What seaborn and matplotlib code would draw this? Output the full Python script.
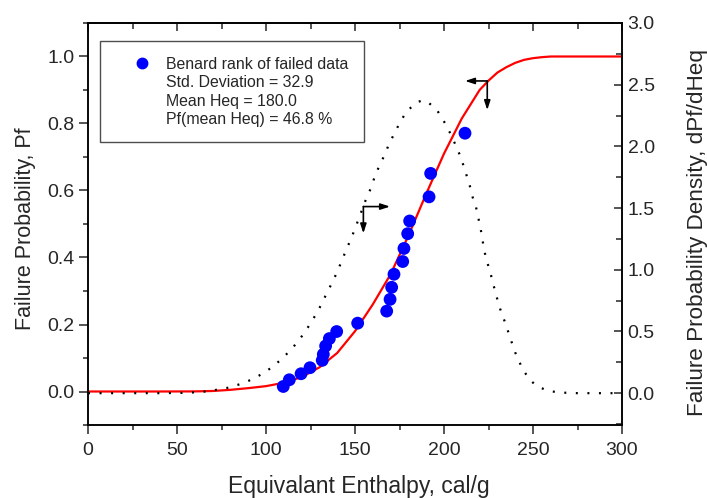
import matplotlib
matplotlib.use("Agg")
import matplotlib.pyplot as plt
from matplotlib.lines import Line2D
from matplotlib.ticker import MultipleLocator, FormatStrFormatter
import seaborn as sns
import pandas as pd

# ---- data ----
heq_pts = [109.7, 113.1, 119.7, 124.7, 131.6, 132.2, 133.5, 135.6, 139.7, 151.5,
           167.8, 169.7, 170.6, 171.9, 176.8, 177.5, 179.6, 180.7, 191.6, 192.5, 211.8]
pf_pts = [0.015, 0.035, 0.053, 0.071, 0.093, 0.111, 0.136, 0.158, 0.179, 0.204,
          0.240, 0.275, 0.311, 0.350, 0.388, 0.427, 0.471, 0.509, 0.581, 0.651, 0.771]

cdf_x = [0, 20, 40, 60, 70, 80, 90, 100, 110, 120, 130, 140, 150, 160, 170, 180,
         190, 200, 210, 220, 225, 230, 235, 240, 245, 250, 255, 260, 270, 300]
cdf_y = [0, 0, 0, 0.0003, 0.0015, 0.005, 0.010, 0.016, 0.026, 0.043, 0.072, 0.115,
         0.180, 0.260, 0.350, 0.465, 0.590, 0.710, 0.815, 0.900, 0.928, 0.952, 0.968,
         0.981, 0.990, 0.995, 0.998, 1.0, 1.0, 1.0]

pdf_x = [0, 20, 40, 55, 62, 67.6, 73.4, 79.4, 85.4, 91.6, 97.6, 103.5, 109.6, 115.3,
         120, 124.3, 127.9, 131.3, 134.1, 137.3, 140.1, 142.5, 144.9, 147.6, 150,
         152.4, 156.6, 159.4, 161.2, 164, 166.9, 169.3, 172.5, 175.3, 179, 184.7,
         187.5, 190.6, 196.2, 200, 203, 206.2, 208.6, 210.8, 212.7, 214.6, 216.1,
         218, 219.3, 221, 222.5, 224, 225.8, 227.4, 229, 230.7, 232.4, 234.8, 236.7,
         240, 244, 248, 252, 258, 265, 275, 300]
pdf_y = [0, 0, 0, 0.003, 0.008, 0.016, 0.030, 0.046, 0.073, 0.108, 0.154, 0.211,
         0.287, 0.373, 0.459, 0.549, 0.635, 0.724, 0.810, 0.900, 0.986, 1.070, 1.156,
         1.246, 1.332, 1.426, 1.588, 1.675, 1.764, 1.851, 1.940, 2.026, 2.115, 2.196,
         2.283, 2.358, 2.370, 2.364, 2.291, 2.202, 2.121, 2.021, 1.940, 1.851, 1.764,
         1.675, 1.588, 1.507, 1.420, 1.300, 1.162, 1.075, 0.989, 0.900, 0.810, 0.724,
         0.643, 0.557, 0.468, 0.330, 0.200, 0.110, 0.060, 0.020, 0.005, 0.0, 0.0]

legend_lines = ["Benard rank of failed data", "Std. Deviation = 32.9",
                "Mean Heq = 180.0", "Pf(mean Heq) = 46.8 %"]

xlabel = "Equivalant Enthalpy, cal/g"
ylabel_left = "Failure Probability, Pf"
ylabel_right = "Failure Probability Density, dPf/dHeq"

# ---- styling ----
sns.set_style("ticks")
plt.rcParams['font.family'] = ['Liberation Sans', 'DejaVu Sans']

fig = plt.figure(figsize=(7.07, 4.98), dpi=100)
ax = fig.add_axes([88/707, 1-425/498, (622-88)/707, (425-23)/498])
ax2 = ax.twinx()

pts = pd.DataFrame({"x": heq_pts, "y": pf_pts})
cdf = pd.DataFrame({"x": cdf_x, "y": cdf_y})
pdf = pd.DataFrame({"x": pdf_x, "y": pdf_y})

sns.lineplot(data=cdf, x="x", y="y", ax=ax, color="#ff0000", lw=1.6,
             estimator=None, sort=False, zorder=2)
sns.scatterplot(data=pts, x="x", y="y", ax=ax, color="#0000ff", s=85,
                edgecolor="none", zorder=3)
sns.lineplot(data=pdf, x="x", y="y", ax=ax2, color="black", lw=1.6,
             estimator=None, sort=False)
ax2.lines[0].set_linestyle((0, (0.9, 4.3)))

ax.set_xlim(0, 300)
ax.set_ylim(-0.1, 1.1)
ax2.set_ylim(-0.258, 3.0)

ax.xaxis.set_major_locator(MultipleLocator(50))
ax.xaxis.set_minor_locator(MultipleLocator(25))
ax.yaxis.set_major_locator(MultipleLocator(0.2))
ax.yaxis.set_minor_locator(MultipleLocator(0.1))
ax2.yaxis.set_major_locator(MultipleLocator(0.5))
ax2.yaxis.set_minor_locator(MultipleLocator(0.25))
ax.yaxis.set_major_formatter(FormatStrFormatter('%.1f'))
ax2.yaxis.set_major_formatter(FormatStrFormatter('%.1f'))

for a in (ax, ax2):
    for s in a.spines.values():
        s.set_linewidth(1.1)
        s.set_color("black")
        s.set_visible(True)

ax.tick_params(axis='y', which='major', direction='out', length=6.5, width=1.1,
               labelsize=14, pad=3)
ax.tick_params(axis='x', which='major', direction='out', length=6.5, width=1.1,
               labelsize=14, pad=5.5)
ax.tick_params(axis='both', which='minor', direction='out', length=3.5, width=1.1)
ax2.tick_params(axis='y', which='major', direction='in', length=6, width=1.1,
                labelsize=14, pad=4)
ax2.tick_params(axis='y', which='minor', direction='in', length=4, width=1.1)

top = ax.secondary_xaxis('top')
top.xaxis.set_major_locator(MultipleLocator(50))
top.xaxis.set_minor_locator(MultipleLocator(25))
top.tick_params(axis='x', which='major', direction='in', length=6, width=1.1, labeltop=False)
top.tick_params(axis='x', which='minor', direction='in', length=4, width=1.1)
top.spines['top'].set_linewidth(1.1)

ax.set_xlabel(xlabel, fontsize=16.5)
ax.set_ylabel(ylabel_left, fontsize=15.5)
ax2.set_ylabel(ylabel_right, fontsize=16.2)
ax.xaxis.set_label_coords(0.507, -0.125)
ax.yaxis.set_label_coords(-0.097, 0.489)
ax2.yaxis.set_label_coords(1.122, 0.478)

# arrows indicating which axis each curve belongs to
arrow_kw = dict(arrowstyle='-|>,head_length=0.55,head_width=0.18', color='black', lw=1.2,
                shrinkA=0, shrinkB=0)
pdf_corner = (154.7, 0.552)
ax.annotate('', xy=(169.7, pdf_corner[1]), xytext=pdf_corner, arrowprops=arrow_kw)
ax.annotate('', xy=(pdf_corner[0], 0.472), xytext=pdf_corner, arrowprops=arrow_kw)
cdf_corner = (224.3, 0.927)
ax.annotate('', xy=(211.8, cdf_corner[1]), xytext=cdf_corner, arrowprops=arrow_kw)
ax.annotate('', xy=(cdf_corner[0], 0.84), xytext=cdf_corner, arrowprops=arrow_kw)

handles = [Line2D([], [], marker='o', color='#0000ff', linestyle='none', markersize=7.5)]
handles += [Line2D([], [], linestyle='none') for _ in legend_lines[1:]]
leg = ax.legend(handles, legend_lines, loc='upper left',
                bbox_to_anchor=((100-88)/534, (425-41.5)/402), fontsize=11.4,
                frameon=True, fancybox=False, borderpad=0.95, handlelength=3.35,
                handletextpad=-0.1, labelspacing=0.22, borderaxespad=0)
leg.get_frame().set_edgecolor('#222222')
leg.get_frame().set_linewidth(1.0)

fig.savefig("out.png", dpi=100)
